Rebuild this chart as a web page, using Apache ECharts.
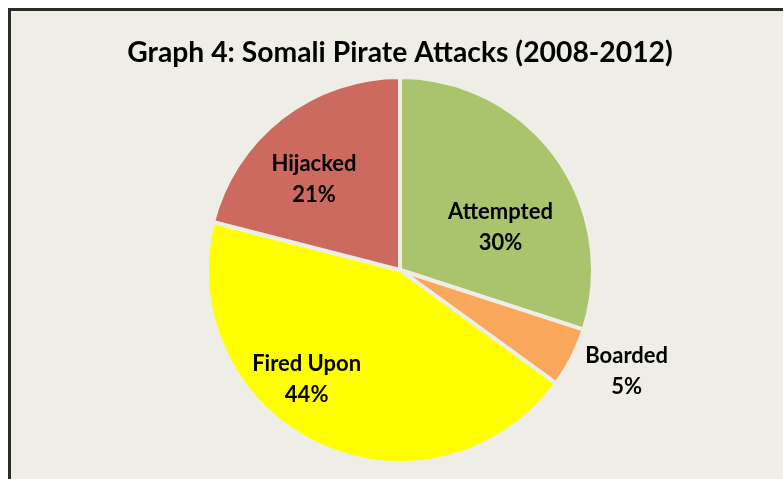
<!DOCTYPE html>
<html>
<head>
<meta charset="utf-8">
<script src="https://cdn.jsdelivr.net/npm/echarts@6/dist/echarts.min.js"></script>
<style>
  html, body { margin: 0; padding: 0; background: #ffffff; overflow: hidden; }
  #frame {
    position: absolute; left: 8px; top: 8px;
    width: 778px; height: 500px;
    border-left: 3px solid #2b2b2b; border-top: 3px solid #2b2b2b;
    background: #efeee6;
  }
  #chart { width: 778px; height: 500px; }
</style>
</head>
<body>
<div id="frame"><div id="chart"></div></div>
<script>
// Somali pirate attacks by outcome, 2008-2012 (percent)
const categories = ['Attempted', 'Boarded', 'Fired Upon', 'Hijacked'];
const shares = [30, 5, 44, 21];
const colors = ['#a9c46c', '#f9a75a', '#ffff00', '#cd6a5f'];

// label nudges so the text sits where the original puts it
const labelTweaks = {
  'Attempted': { offset: [20, 16] },
  'Boarded': { offset: [138, 56] },
  'Fired Upon': { offset: [-51, 19] },
  'Hijacked': { offset: [-25, -12] }
};

const chart = echarts.init(document.getElementById('chart'));

chart.setOption({
  animation: false,
  title: {
    text: 'Graph 4: Somali Pirate Attacks (2008-2012)',
    left: 'center',
    top: 23,
    textStyle: { fontFamily: 'Lato', fontWeight: 'bold', fontSize: 28.3, color: '#000' }
  },
  series: [{
    type: 'pie',
    center: [389, 259],
    radius: 193,
    startAngle: 90,
    clockwise: true,
    itemStyle: { borderColor: '#efeee6', borderWidth: 4 },
    labelLine: { show: false },
    label: {
      position: 'inside',
      formatter: '{b}\n{d}%',
      fontFamily: 'Lato',
      fontWeight: 'bold',
      fontSize: 22,
      lineHeight: 31,
      color: '#000',
      align: 'center'
    },
    data: categories.map((name, i) => ({
      name,
      value: shares[i],
      itemStyle: { color: colors[i] },
      label: labelTweaks[name]
    }))
  }]
});
</script>
</body>
</html>
